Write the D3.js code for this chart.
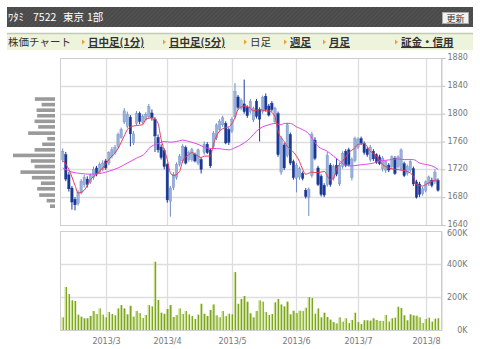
<!DOCTYPE html>
<html>
<head>
<meta charset="utf-8">
<script src="https://cdn.jsdelivr.net/npm/d3@7"></script>
<style>
body { margin: 0; background: #fff; }
svg { display: block; }
.jp { font-family: "Noto Sans CJK JP", sans-serif; }
.ax { font-family: "DejaVu Sans", sans-serif; font-size: 8px; fill: #777; }
</style>
</head>
<body>
<div id="chart"></div>
<script>
// trading days shown (2013/2/8 - 2013/8/7)
var dates = ["2013/2/8","2013/2/12","2013/2/13","2013/2/14","2013/2/15","2013/2/18","2013/2/19","2013/2/20","2013/2/21","2013/2/22","2013/2/25","2013/2/26","2013/2/27","2013/2/28",
 "2013/3/1","2013/3/4","2013/3/5","2013/3/6","2013/3/7","2013/3/8","2013/3/11","2013/3/12","2013/3/13","2013/3/14","2013/3/15","2013/3/18","2013/3/19","2013/3/21","2013/3/22","2013/3/25","2013/3/26","2013/3/27","2013/3/28","2013/3/29",
 "2013/4/1","2013/4/2","2013/4/3","2013/4/4","2013/4/5","2013/4/8","2013/4/9","2013/4/10","2013/4/11","2013/4/12","2013/4/15","2013/4/16","2013/4/17","2013/4/18","2013/4/19","2013/4/22","2013/4/23","2013/4/24","2013/4/25","2013/4/26","2013/4/30",
 "2013/5/1","2013/5/2","2013/5/7","2013/5/8","2013/5/9","2013/5/10","2013/5/13","2013/5/14","2013/5/15","2013/5/16","2013/5/17","2013/5/20","2013/5/21","2013/5/22","2013/5/23","2013/5/24","2013/5/27","2013/5/28","2013/5/29","2013/5/30","2013/5/31",
 "2013/6/3","2013/6/4","2013/6/5","2013/6/6","2013/6/7","2013/6/10","2013/6/11","2013/6/12","2013/6/13","2013/6/14","2013/6/17","2013/6/18","2013/6/19","2013/6/20","2013/6/21","2013/6/24","2013/6/25","2013/6/26","2013/6/27","2013/6/28",
 "2013/7/1","2013/7/2","2013/7/3","2013/7/4","2013/7/5","2013/7/8","2013/7/9","2013/7/10","2013/7/11","2013/7/12","2013/7/16","2013/7/17","2013/7/18","2013/7/19","2013/7/22","2013/7/23","2013/7/24","2013/7/25","2013/7/26","2013/7/29","2013/7/30","2013/7/31",
 "2013/8/1","2013/8/2","2013/8/5","2013/8/6","2013/8/7"];

var opens  = [1734,1741,1712,1693,1677,1671,1686,1698,1706,1701,1708,1722,1716,1720,
 1732,1729,1739,1744,1753,1766,1788,1782,1795,1758,1786,1800,1788,1792,1796,1801,1792,1766,1752,1747,
 1727,1674,1694,1708,1727,1732,1751,1734,1734,1741,1729,1734,1744,1756,1748,1753,1765,1777,1784,1786,1777,
 1775,1796,1824,1808,1814,1809,1803,1791,1818,1806,1803,1825,1811,1815,1789,1800,1716,1755,1740,1770,1731,
 1707,1709,1714,1690,1680,1711,1762,1722,1710,1697,1698,1726,1707,1726,1699,1724,1746,1748,1708,1733,
 1752,1764,1757,1749,1734,1746,1741,1738,1721,1719,1726,1724,1736,1724,1721,1728,1714,1719,1721,1702,1699,1685,
 1690,1699,1704,1702,1704];
var highs  = [1750,1745,1716,1696,1680,1690,1706,1712,1710,1714,1724,1725,1730,1733,
 1735,1746,1752,1755,1773,1780,1808,1803,1798,1775,1804,1803,1799,1802,1814,1806,1795,1770,1756,1750,
 1729,1696,1716,1730,1742,1756,1754,1747,1751,1744,1750,1737,1760,1759,1750,1775,1786,1792,1797,1789,1780,
 1795,1844,1827,1822,1849,1812,1821,1810,1821,1809,1826,1829,1814,1818,1810,1803,1768,1758,1787,1773,1734,
 1729,1724,1717,1693,1694,1774,1766,1725,1713,1700,1745,1729,1727,1735,1730,1746,1749,1751,1737,1767,
 1766,1767,1760,1752,1755,1749,1743,1741,1739,1733,1729,1740,1739,1740,1750,1731,1727,1733,1724,1705,1702,1695,
 1704,1711,1708,1720,1707];
var lows   = [1730,1703,1688,1662,1661,1668,1684,1694,1694,1699,1705,1710,1714,1717,
 1719,1726,1736,1741,1750,1764,1785,1779,1753,1755,1783,1785,1785,1789,1793,1790,1745,1744,1734,1720,
 1672,1652,1690,1705,1724,1729,1727,1731,1731,1730,1726,1714,1741,1742,1722,1750,1762,1774,1781,1756,1755,
 1772,1793,1806,1805,1800,1794,1800,1788,1793,1760,1800,1803,1796,1803,1786,1738,1712,1719,1737,1726,1705,
 1687,1705,1704,1678,1653,1708,1733,1696,1681,1680,1695,1695,1704,1710,1696,1721,1723,1724,1704,1730,
 1749,1755,1741,1738,1731,1732,1728,1726,1717,1715,1716,1720,1712,1721,1718,1709,1711,1716,1696,1678,1680,1682,
 1687,1696,1694,1699,1688];
var closes = [1746,1706,1692,1673,1669,1687,1703,1708,1698,1711,1720,1713,1727,1729,
 1722,1744,1748,1751,1770,1777,1804,1799,1771,1771,1800,1789,1796,1799,1810,1794,1768,1748,1737,1724,
 1676,1693,1713,1727,1739,1753,1729,1744,1748,1732,1748,1720,1756,1744,1725,1772,1784,1789,1794,1758,1759,
 1792,1832,1809,1819,1803,1797,1818,1808,1796,1792,1823,1806,1798,1806,1808,1741,1764,1722,1784,1729,1708,
 1726,1721,1707,1681,1691,1770,1736,1698,1684,1683,1740,1698,1724,1713,1726,1743,1726,1727,1734,1764,
 1763,1758,1744,1741,1752,1735,1730,1728,1736,1731,1719,1738,1714,1738,1748,1711,1724,1731,1699,1680,1684,1692,
 1702,1709,1697,1716,1690];

// volume, thousand shares
var volumes = [77,261,218,180,176,93,81,71,71,85,
 115,97,131,93,77,109,97,89,131,151,
 131,95,147,81,115,103,73,91,151,143,
 414,182,105,99,127,151,79,91,131,97,
 115,95,85,67,93,159,99,85,121,155,
 89,77,115,85,99,95,351,159,188,206,
 172,101,77,115,180,172,109,91,97,168,
 188,155,143,172,95,117,103,117,115,135,
 200,194,99,131,77,105,79,63,48,40,
 77,51,71,42,61,105,48,36,59,59,
 57,71,61,55,55,91,51,71,75,141,
 133,89,59,95,89,87,77,42,67,75,
 51,69,71];

// short moving average (red), read at these day positions
var maShortDay = [0,2,4,5,7,9,11,13,15,18,20,21,22,24,26,27,29,30,31,32,34,35,36,38,39,41,42,45,46,48,49,51,53,54,56,57,59,61,62,64,66,67,69,70,72,73,74,76,77,78,79,81,83,85,87,88,89,91,93,95,96,98,100,102,104,106,108,110,112,114,115,117,118,120,122];
var maShortVal = [1733,1720,1697,1686,1690,1705,1713,1722,1734,1750,1768,1777,1781,1783,1784,1792,1794,1792,1786,1763,1734,1715,1711,1717,1732,1741,1744,1737,1739,1739,1756,1775,1780,1781,1794,1806,1811,1808,1804,1806,1804,1804,1796,1775,1760,1753,1749,1739,1731,1720,1713,1716,1715,1717,1705,1707,1720,1732,1744,1751,1756,1757,1746,1739,1727,1722,1720,1719,1717,1710,1698,1696,1698,1703,1705];
// long moving average (magenta)
var maLongDay = [0,3,6,9,12,14,18,21,24,27,28,31,33,35,37,39,41,44,46,48,50,52,54,56,59,61,63,65,67,69,71,72,74,76,78,80,81,83,86,88,90,92,94,96,98,101,103,105,107,109,111,114,116,118,120,122];
var maLongVal = [1722,1716,1714,1713,1714,1716,1722,1729,1736,1744,1750,1757,1760,1759,1760,1762,1760,1756,1752,1750,1750,1749,1748,1751,1758,1765,1775,1781,1784,1786,1784,1786,1786,1781,1777,1771,1765,1753,1746,1739,1732,1726,1725,1726,1727,1729,1732,1733,1734,1735,1734,1734,1729,1727,1725,1720];

// volume by price (left profile)
var profilePrice = [1821,1813,1805,1797,1789,1781,1772,1764,1756,1748,1740,1732,1724,1716,1708,1700,1692,1683,1675,1667];
var profileVol = [200,133,183,177,203,167,267,77,127,203,417,240,203,343,230,140,177,157,83,50];

var priceTicks = [1640,1680,1720,1760,1800,1840,1880];
var volTicks = [0,200,400,600];
var monthTicks = ["2013/3","2013/4","2013/5","2013/6","2013/7","2013/8"];

var titleParts = ["ﾜﾀﾐ", "7522", "東京", "1部"];
var titleX = [8, 33, 63, 87];
var navItems = ["日中足(1分)","日中足(5分)","日足","週足","月足","証金・信用"];
var navX = [82,163,244,284,323,395];
var navLink = [true,true,false,true,true,true];

var svg = d3.select("#chart").append("svg")
  .attr("width", 480).attr("height", 349);

// ---- header bar ----
var defs = svg.append("defs");
var pat = defs.append("pattern").attr("id", "stripe")
  .attr("width", 3).attr("height", 3)
  .attr("patternUnits", "userSpaceOnUse")
  .attr("patternTransform", "rotate(45)");
pat.append("rect").attr("width", 3).attr("height", 3).attr("fill", "#4a4a4a");
pat.append("rect").attr("width", 1).attr("height", 3).attr("fill", "#545454");

svg.append("rect").attr("x", 7).attr("y", 7).attr("width", 466).attr("height", 20)
  .attr("fill", "url(#stripe)");
var title = svg.append("text").attr("class", "jp").attr("y", 21)
  .attr("fill", "#fff").style("font-size", "10.5px");
titleParts.forEach(function(t, i) {
  title.append("tspan").attr("x", titleX[i]).text(t);
});
svg.append("rect").attr("x", 442.5).attr("y", 12.5).attr("width", 26).attr("height", 11)
  .attr("fill", "#f2f2f2").attr("stroke", "#aaa");
svg.append("text").attr("class", "jp").attr("x", 455.5).attr("y", 21.5)
  .attr("text-anchor", "middle").attr("fill", "#333").style("font-size", "9px")
  .text("更新");

// ---- nav bar ----
svg.append("rect").attr("x", 7).attr("y", 33).attr("width", 466).attr("height", 17)
  .attr("fill", "#edf4db");
svg.append("line").attr("x1", 7).attr("x2", 473).attr("y1", 33.5).attr("y2", 33.5)
  .attr("stroke", "#c2cab5").attr("stroke-width", 1.5);
svg.append("text").attr("class", "jp").attr("x", 8).attr("y", 46)
  .attr("fill", "#333").style("font-size", "10.5px").text("株価チャート");

navItems.forEach(function(t, i) {
  svg.append("path")
    .attr("d", "M" + navX[i] + ",39.5 l3,2.5 l-3,2.5 z")
    .attr("fill", "#f0a030");
  svg.append("text").attr("class", "jp")
    .attr("x", navX[i] + 6).attr("y", 46)
    .attr("fill", "#333")
    .style("font-size", "10.5px")
    .style("font-weight", navLink[i] ? "bold" : "normal")
    .style("text-decoration", navLink[i] ? "underline" : "none")
    .text(t);
});

// ---- scales ----
var x = d3.scalePoint().domain(dates).range([62.7, 438]);
var y = d3.scaleLinear().domain([1640, 1880]).range([225, 58]);
var yv = d3.scaleLinear().domain([0, 600]).range([330, 231]);
var xp = d3.scaleLinear().domain([0, d3.max(profileVol)]).range([0, 42]);

var left = 60, right = 441.5;
var monthX = monthTicks.map(function(m) {
  var d = dates.find(function(s) { return s.indexOf(m + "/") === 0; });
  return Math.round(x(d)) + 0.5;
});

// grid
var grid = svg.append("g").attr("stroke", "#dedede").attr("stroke-width", 1.3);
priceTicks.slice(1, -1).forEach(function(p) {
  grid.append("line").attr("x1", left).attr("x2", right)
    .attr("y1", Math.round(y(p)) + 0.5).attr("y2", Math.round(y(p)) + 0.5);
});
volTicks.slice(1, -1).forEach(function(v) {
  grid.append("line").attr("x1", left).attr("x2", right)
    .attr("y1", Math.round(yv(v)) + 0.5).attr("y2", Math.round(yv(v)) + 0.5);
});
monthX.forEach(function(mx) {
  grid.append("line").attr("x1", mx).attr("x2", mx).attr("y1", 58).attr("y2", 225);
  grid.append("line").attr("x1", mx).attr("x2", mx).attr("y1", 231).attr("y2", 332);
});

// frames
[[58, 225], [231, 330]].forEach(function(r) {
  svg.append("rect").attr("x", left + 0.5).attr("y", r[0] + 0.5)
    .attr("width", right - left - 0.5).attr("height", r[1] - r[0])
    .attr("fill", "none").attr("stroke", "#cfcfcf");
});

// right axes
var yAxis = d3.axisRight(y).tickValues(priceTicks).tickSize(4).tickPadding(2)
  .tickFormat(d3.format("d"));
svg.append("g").attr("transform", "translate(" + right + ",0)")
  .call(yAxis)
  .call(function(g) {
    g.select(".domain").attr("stroke", "#ccc").attr("fill", "none");
    g.selectAll(".tick line").attr("stroke", "#c4c4c4");
    g.selectAll("text").attr("fill", "#777").attr("dy", "0.2em")
      .style("font", "8px 'DejaVu Sans'");
  });
var vAxis = d3.axisRight(yv).tickValues(volTicks).tickSize(0).tickPadding(4)
  .tickFormat(function(v) { return v + "K"; });
svg.append("g").attr("transform", "translate(" + right + ",0)")
  .call(vAxis)
  .call(function(g) {
    g.select(".domain").attr("stroke", "#ccc").attr("fill", "none");
    g.selectAll("text").attr("fill", "#777").style("font", "8px 'DejaVu Sans'")
      .attr("dy", function(v) { return v === 600 ? "0.62em" : "0.32em"; })
      .attr("text-anchor", "end").attr("x", 26);
  });

// month labels
monthTicks.forEach(function(m, i) {
  svg.append("text").attr("class", "ax").attr("x", monthX[i]).attr("y", 344)
    .attr("text-anchor", "middle").text(m);
});

// volume by price profile
svg.append("g").selectAll("rect").data(profilePrice).join("rect")
  .attr("x", function(p, i) { return 55 - xp(profileVol[i]); })
  .attr("y", function(p) { return y(p) - 1.8; })
  .attr("width", function(p, i) { return xp(profileVol[i]); })
  .attr("height", 3.6)
  .attr("fill", "#9a9a9a");

// volume bars
var vg = defs.append("linearGradient").attr("id", "vgrad");
vg.append("stop").attr("offset", "0%").attr("stop-color", "#c4dc82");
vg.append("stop").attr("offset", "45%").attr("stop-color", "#c4dc82");
vg.append("stop").attr("offset", "55%").attr("stop-color", "#7da524");
vg.append("stop").attr("offset", "100%").attr("stop-color", "#7da524");
svg.append("g").selectAll("rect").data(dates).join("rect")
  .attr("x", function(d) { return x(d) - 1.2; })
  .attr("width", 2.4)
  .attr("y", function(d, i) { return yv(volumes[i]); })
  .attr("height", function(d, i) { return yv(0) - yv(volumes[i]); })
  .attr("fill", "url(#vgrad)");

// candles
var cg = svg.append("g");
dates.forEach(function(d, i) {
  var up = closes[i] >= opens[i];
  var cx = x(d);
  cg.append("line").attr("x1", cx).attr("x2", cx)
    .attr("y1", y(highs[i])).attr("y2", y(lows[i]))
    .attr("stroke", up ? "#6f8cc4" : "#1d3c98").attr("stroke-width", 1);
  var top = y(Math.max(opens[i], closes[i]));
  var bot = y(Math.min(opens[i], closes[i]));
  cg.append("rect").attr("x", cx - 1.2).attr("width", 2.4)
    .attr("y", top).attr("height", Math.max(1, bot - top))
    .attr("fill", up ? "#98b0da" : "#1a3896")
    .attr("stroke", up ? "#7090c8" : "#1a3896").attr("stroke-width", 0.4);
});

// moving averages
var line = d3.line()
  .x(function(p) { return x(dates[p[0]]); })
  .y(function(p) { return y(p[1]); })
  .curve(d3.curveMonotoneX);
svg.append("path")
  .attr("d", line(maLongDay.map(function(d, i) { return [d, maLongVal[i]]; })))
  .attr("fill", "none").attr("stroke", "#e048ee").attr("stroke-width", 1);
svg.append("path")
  .attr("d", line(maShortDay.map(function(d, i) { return [d, maShortVal[i]]; })))
  .attr("fill", "none").attr("stroke", "#ee3a55").attr("stroke-width", 1);
</script>
</body>
</html>
